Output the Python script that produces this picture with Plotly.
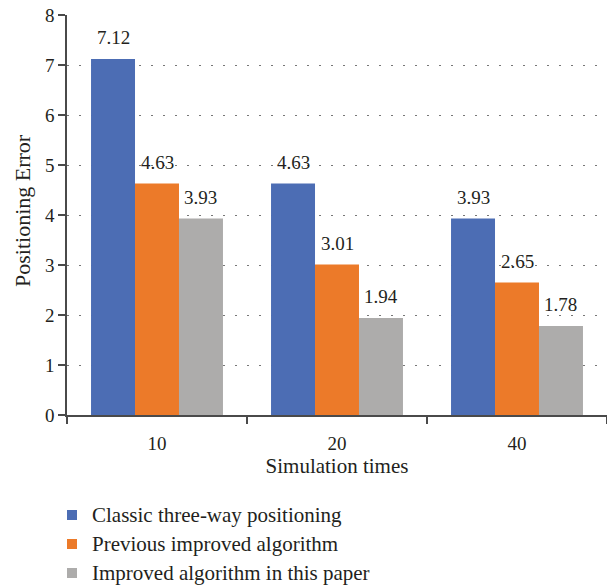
import plotly.graph_objects as go

categories = ["10", "20", "40"]
series_names = ["Classic three-way positioning", "Previous improved algorithm", "Improved algorithm in this paper"]
classic = [7.12, 4.63, 3.93]
previous = [4.63, 3.01, 2.65]
improved = [3.93, 1.94, 1.78]
y_ticks = [0, 1, 2, 3, 4, 5, 6, 7, 8]

colors = ["#4C6DB4", "#EC7A29", "#ADACAB"]
FONT = "Liberation Serif"
FS_NUM = 19
FS_TXT = 21
TXT = "#231F20"

W, H = 607, 586
ML, MR, MT, MB = 67, 0, 15, 171
PW, PH = W - ML - MR, H - MT - MB

def px_to_paper(px, py):
    return (px - ML) / PW, (H - MB - py) / PH

fig = go.Figure()
all_vals = [classic, previous, improved]
for i, (name, vals) in enumerate(zip(series_names, all_vals)):
    fig.add_trace(go.Bar(x=list(range(len(categories))), y=vals, name=name,
                         marker=dict(color=colors[i], line=dict(width=0)),
                         showlegend=False))

bargap = 0.267
bw = (1 - bargap) / 3
for i, vals in enumerate(all_vals):
    for j, v in enumerate(vals):
        fig.add_annotation(x=j + (i - 1) * bw, y=v, text=f"{v:.2f}", showarrow=False,
                           xref="x", yref="y", yanchor="bottom", yshift=9,
                           font=dict(family=FONT, size=FS_NUM, color=TXT))

# legend drawn below the axes
leg_x_sq, leg_x_txt, leg_y0, leg_dy, sq = 67, 90, 515, 29, 10
for i, name in enumerate(series_names):
    cy = leg_y0 + i * leg_dy
    x0, y0 = px_to_paper(leg_x_sq, cy + sq / 2)
    x1, y1 = px_to_paper(leg_x_sq + sq, cy - sq / 2)
    fig.add_shape(type="rect", xref="paper", yref="paper", x0=x0, y0=y0, x1=x1, y1=y1,
                  fillcolor=colors[i], line=dict(width=0))
    tx, ty = px_to_paper(leg_x_txt, cy)
    fig.add_annotation(x=tx, y=ty, xref="paper", yref="paper", text=name, showarrow=False,
                       xanchor="left", yanchor="middle",
                       font=dict(family=FONT, size=FS_TXT, color=TXT))

# y-axis title
yt_x, yt_y = px_to_paper(22, 211)
fig.add_annotation(x=yt_x, y=yt_y, xref="paper", yref="paper", text="Positioning Error",
                   textangle=-90, showarrow=False, xanchor="center", yanchor="middle",
                   font=dict(family=FONT, size=22, color=TXT))

fig.update_layout(
    width=W, height=H,
    margin=dict(l=ML, r=MR, t=MT, b=MB),
    barmode="group", bargap=bargap, bargroupgap=0,
    plot_bgcolor="white", paper_bgcolor="white",
    font=dict(family=FONT, size=FS_NUM, color=TXT),
    showlegend=False,
)
fig.update_xaxes(
    tickmode="array", tickvals=list(range(len(categories))), ticktext=categories,
    range=[-0.5, 2.5], showgrid=False, zeroline=False,
    showline=True, linecolor="#4A4A4A", linewidth=1.5,
    ticks="", ticklabelstandoff=10,
    title=dict(text="Simulation times", font=dict(family=FONT, size=FS_TXT, color=TXT), standoff=3),
    tickfont=dict(family=FONT, size=FS_NUM, color=TXT),
)
fig.update_xaxes(minor=dict(tickmode="array", tickvals=[-0.5, 0.5, 1.5, 2.5], ticks="outside",
                            ticklen=7, tickcolor="#4A4A4A", tickwidth=1.5))
fig.update_yaxes(
    range=[0, 8], tickvals=y_ticks, showgrid=True, gridcolor="#777777", griddash="1.5px,10.5px", gridwidth=1.2,
    zeroline=False, showline=True, linecolor="#4A4A4A", linewidth=1.5,
    ticks="outside", ticklen=7, tickcolor="#4A4A4A", tickwidth=1.5,
    tickfont=dict(family=FONT, size=FS_NUM, color=TXT),
)
fig.write_html("out.html")
